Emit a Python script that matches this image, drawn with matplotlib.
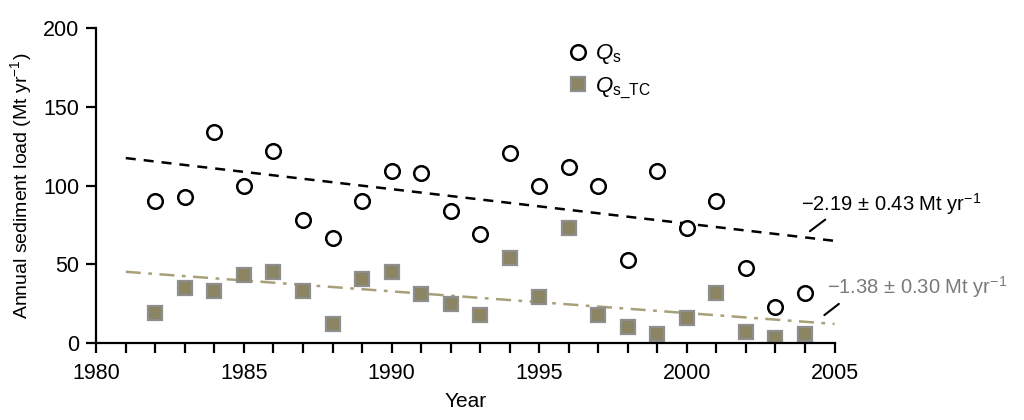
import numpy as np
import matplotlib
matplotlib.use("Agg")
import matplotlib.pyplot as plt
from matplotlib.ticker import MultipleLocator

plt.rcParams['font.family'] = ['Liberation Sans', 'DejaVu Sans']
plt.rcParams['mathtext.fontset'] = 'custom'
plt.rcParams['mathtext.rm'] = 'Liberation Sans'
plt.rcParams['mathtext.it'] = 'Liberation Sans:italic'

# Data
years = list(range(1982, 2005))
qs = [90, 93, 134, 100, 122, 78, 67, 90, 109, 108, 84, 69, 121,
      100, 112, 100, 53, 109, 73, 90, 48, 23, 32]
qs_tc = [19, 35, 33, 43, 45, 33, 12, 41, 45, 31, 25, 18, 54,
         29, 73, 18, 10, 6, 16, 32, 7, 3, 6]

# Trend lines (value at 1981, slope per year)
trend_years = [1981, 2005]
qs_start, qs_slope = 117.5, -2.19
tc_start, tc_slope = 45.3, -1.38

olive = '#8b8563'
trend_tc_color = '#a7a079'

fig, ax = plt.subplots(figsize=(10.24, 4.2), dpi=100)
fig.subplots_adjust(left=0.094, right=0.815, bottom=0.183, top=0.933)

tx = np.array(trend_years)
ax.plot(tx, qs_start + qs_slope * (tx - 1981), ls=(0, (4, 3.2)), color='black', lw=1.8, zorder=1)
ax.plot(tx, tc_start + tc_slope * (tx - 1981), ls=(0, (6, 3, 1.5, 3)), color=trend_tc_color, lw=1.8, zorder=1)

ax.plot(years, qs, 'o', ms=10.5, mfc='white', mec='black', mew=1.8, zorder=3, label=r'$Q_{\mathrm{s}}$')
ax.plot(years, qs_tc, 's', ms=10, mfc=olive, mec='#8e8e8e', mew=1.6, zorder=2, label=r'$Q_{\mathrm{s\_TC}}$')

ax.set_xlim(1980, 2005)
ax.set_ylim(0, 200)
ax.xaxis.set_major_locator(MultipleLocator(5))
ax.xaxis.set_minor_locator(MultipleLocator(1))
ax.yaxis.set_major_locator(MultipleLocator(50))
ax.tick_params(axis='both', which='major', direction='out', length=7, width=1.6, labelsize=15.5)
ax.tick_params(axis='x', which='minor', direction='out', length=7, width=1.6)
ax.tick_params(axis='x', pad=7)
ax.tick_params(axis='y', pad=5)
for s in ['top', 'right']:
    ax.spines[s].set_visible(False)
for s in ['left', 'bottom']:
    ax.spines[s].set_linewidth(1.6)

ax.set_xlabel('Year', fontsize=15)
ax.xaxis.set_label_coords(0.5, -0.155)
ax.set_ylabel(r'Annual sediment load (Mt yr$^{-1}$)', fontsize=14, labelpad=7)

ax.legend(loc='upper left', bbox_to_anchor=(0.617, 1.004), frameon=False, fontsize=16,
          handletextpad=0.25, labelspacing=0.4, handlelength=1.0, borderaxespad=0.3)

ax.annotate('', xy=(2004.09, 70), xytext=(2004.76, 79.5),
            arrowprops=dict(arrowstyle='-', color='black', lw=1.5))
ax.text(2003.88, 88, r'$-$2.19 $\pm$ 0.43 Mt yr$^{-1}$', fontsize=14.5, color='black', va='center')
ax.annotate('', xy=(2004.58, 16.7), xytext=(2005.22, 26),
            arrowprops=dict(arrowstyle='-', color='black', lw=1.5), annotation_clip=False)
ax.text(2004.73, 35.5, r'$-$1.38 $\pm$ 0.30 Mt yr$^{-1}$', fontsize=14.5, color='#7a7a7a', va='center')

fig.savefig('out.png', dpi=100)
